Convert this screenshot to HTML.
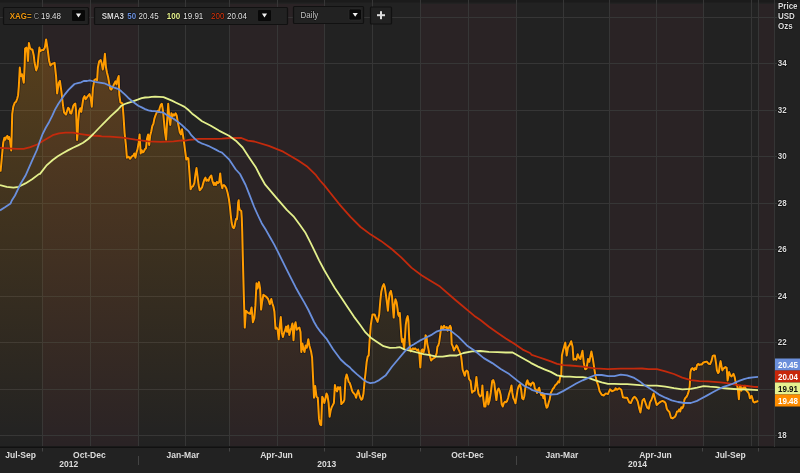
<!DOCTYPE html>
<html><head><meta charset="utf-8"><title>XAG= Chart</title>
<style>
html,body{margin:0;padding:0;background:#222;width:800px;height:473px;overflow:hidden}
svg{display:block}
text{font-family:"Liberation Sans",Arial,sans-serif}
</style></head><body>
<svg width="800" height="473" viewBox="0 0 800 473">
<defs>
<linearGradient id="fg" gradientUnits="userSpaceOnUse" x1="0" y1="40" x2="0" y2="445">
<stop offset="0" stop-color="#e68e0c" stop-opacity="0.27"/>
<stop offset="1" stop-color="#e68e0c" stop-opacity="0"/>
</linearGradient>
<clipPath id="cc"><rect x="0" y="0" width="774" height="446"/></clipPath>
</defs>
<rect width="800" height="473" fill="#222"/>
<rect x="42" y="4" width="96" height="442" fill="#2a2325"/>
<rect x="229" y="4" width="95" height="442" fill="#2a2325"/>
<rect x="420" y="4" width="96" height="442" fill="#2a2325"/>
<rect x="609" y="4" width="94" height="442" fill="#2a2325"/>
<rect x="759" y="4" width="15" height="442" fill="#2a2325"/>
<rect x="0" y="0" width="800" height="2.5" fill="#1b1b1b"/>
<g fill="#363636"><rect x="42" y="0" width="1" height="446"/><rect x="90" y="0" width="1" height="446"/><rect x="138" y="0" width="1" height="446"/><rect x="185" y="0" width="1" height="446"/><rect x="229" y="0" width="1" height="446"/><rect x="277" y="0" width="1" height="446"/><rect x="324" y="0" width="1" height="446"/><rect x="372" y="0" width="1" height="446"/><rect x="420" y="0" width="1" height="446"/><rect x="468" y="0" width="1" height="446"/><rect x="516" y="0" width="1" height="446"/><rect x="563" y="0" width="1" height="446"/><rect x="609" y="0" width="1" height="446"/><rect x="656" y="0" width="1" height="446"/><rect x="703" y="0" width="1" height="446"/><rect x="751" y="0" width="1" height="446"/><rect x="758" y="0" width="1" height="446"/><rect x="0" y="17" width="774" height="1"/><rect x="0" y="63" width="774" height="1"/><rect x="0" y="110" width="774" height="1"/><rect x="0" y="156" width="774" height="1"/><rect x="0" y="203" width="774" height="1"/><rect x="0" y="249" width="774" height="1"/><rect x="0" y="296" width="774" height="1"/><rect x="0" y="342" width="774" height="1"/><rect x="0" y="389" width="774" height="1"/><rect x="0" y="435" width="774" height="1"/></g>
<g clip-path="url(#cc)">
<path d="M0,169.5L0.6,170.8 1.9,156.8 3.2,142.8 4.4,137.8 5.3,139.7 6.3,137 7.4,135.9 8.2,139 9.1,137 10.2,141.6 11.2,150.5 11.7,135 12.2,114.2 13.3,106.6 14.7,102.8 16,101.8 17.1,99 18.1,95.2 18.8,86.6 19.8,67.6 20.7,76.1 21.9,74.2 22.8,78 23.8,82.8 24.6,66.6 25.1,48.6 26.5,47.6 27.4,53.3 28,60.9 28.9,42.9 29.9,47.6 31.2,49.5 32.4,49.5 33.7,55.2 34.6,62.8 36.2,70.4 37.5,66.6 38.4,57.1 39.4,47.6 40.2,51.2 41.9,50 43.4,50 44.9,47.4 46.1,39.5 47.6,49 49.1,60.7 50.4,65.6 52,63.9 54.6,62.8 56.1,76.6 57.1,93.5 58.8,82.9 59.9,80.8 61.4,91.4 63.1,106.2 64.1,112.5 66,114.6 67.1,110.9 68.1,107.7 69.2,108.7 70.2,113 71.3,113.5 72.3,109.8 73.4,105.6 74.5,104 75.3,103.5 76,109.8 76.6,126.7 77.1,140 77.6,134.1 78.2,121.4 79.2,110.9 80.3,108.2 81.3,111.9 82.4,104.5 83.4,98.2 84.5,96.1 85.6,99.2 87.1,97.1 88.7,95 89.5,94 90.7,98.2 91.8,106.7 92.9,88.7 94.3,80.2 95.8,79.2 97.1,80.2 97.9,67.5 99.2,61.2 100.7,60.1 101.7,63.3 102.8,69.6 103.9,63.3 104.9,53.8 106,67.5 107,72.8 108.1,77 109.2,83.4 110.2,88.7 111.3,89.7 112.3,87.6 113.4,85.5 114.4,83.4 115.5,81.3 116.6,84.4 117.6,79.2 118.7,76 119.3,95 120.4,102.4 122.5,103.5 123.5,116.2 124.6,133.1 125.9,145 126.9,157.7 128.6,156.7 130.1,158.8 131.6,156.7 133.3,155.6 134.3,153.5 135.4,157.7 136.5,152.4 137.5,149.3 138.6,142.9 139.6,134.4 140.7,153.5 141.7,150.3 142.8,152.4 143.9,151.4 144.9,149.3 146,148.2 147,138.7 148.1,134.4 149.2,145 150.2,135.5 151.3,131.3 152.3,126 153.4,123.9 154.4,118.6 155.5,115.4 156.6,112.9 157.6,110.7 158.7,112.2 159.7,108 160.8,104.8 161.9,103.8 162.9,110.1 164,121.7 165,132.3 166.1,139.7 167.1,121.7 168.2,103.8 169.3,117.5 170.3,124.9 171.4,113.3 172.4,116.5 173.5,114.3 174.5,115.4 175.6,113.3 176.7,115.4 177.7,121.7 178.8,127 179.8,132.3 180.9,134.4 182,129.2 183,135.5 184.1,142.9 185.2,151.3 186.3,159.6 187.4,158 188.4,158.5 189.5,173.5 190.6,189.3 191.6,187.1 193.1,186.1 194.4,182.9 195.4,174.4 196.5,168.1 197.6,176.6 198.6,185 199.7,190.3 200.7,189.3 202.2,187.1 203.3,182.9 204.3,179.7 205.4,177.6 206.5,180.8 207.5,179.7 208.6,180.8 209.6,177.6 211.3,175.5 212.4,180.8 213.9,185 214.9,182.9 216,185 217,181.9 218.1,182.9 219.2,181.9 220.2,173.4 221.3,184 222.3,188.2 222.8,185.7 223.8,185.1 225.1,186.3 226.3,188.2 227.6,192.7 228.9,199 229.9,206.6 230.8,215.5 231.7,223.1 232.7,227 233.7,228.2 234.6,226.3 235.5,221.2 236.2,218.7 236.9,219.3 237.5,214.3 238.1,202.8 238.7,200.3 239,206.6 239.7,209.8 240.6,210.5 241.3,211.1 241.8,218.1 242.2,230.8 242.7,252.3 243.8,294.7 244.8,327.6 245.9,310.7 248,312.8 250.1,313.9 251.6,307.5 252.9,322.3 254.3,318.1 255.4,305.4 256.5,283.2 257.5,288.5 259,282.1 260.1,288.5 261.1,309.6 262.2,301.2 263.4,294.8 264.9,295.9 266.4,296.9 268.1,299 269.8,304.3 271.3,299 272.3,303.3 273.4,306.5 274.4,311.7 275.5,328.7 276.6,327.6 277.6,329.7 278.7,339.3 279.7,326.6 280.8,317 281.9,332.9 282.9,337.1 284,332.9 285,330.8 286.1,326.6 287.1,331.9 288.2,325.5 289.3,335 290.3,330.8 291.4,327.6 292.4,323.4 293.5,340.3 294.6,325.5 295.6,322.3 296.7,329.7 297.7,328.7 299.4,327.6 300.5,331.9 301.3,352 302.4,343.5 303.4,348.8 304.5,352 305.6,345.6 306.8,347.7 308.3,339.3 309.5,345.9 311,351.2 312.1,357.5 313.1,378.7 314,397.7 315.2,386.1 316.5,396.7 317.8,397.7 319,418.9 320.1,424.2 321.2,425.2 322.2,396.7 323.3,398.8 324.3,403 325.4,398.8 326.5,393.5 327.5,395.6 328.6,403 329.6,416.8 330.7,410.4 331.7,407.2 332.8,405.1 333.9,403 334.9,385 336,389.3 337,391.4 338.1,387.1 339.2,389.3 340.2,387.1 341.3,404.1 342.3,403 343.4,402 344.4,399.8 345.5,378.7 346.6,374.4 347.6,377.6 348.7,381.9 349.7,382.9 350.8,386.1 351.9,390.3 352.9,392.4 354,393.5 355,394.6 356.1,397.7 357.1,393.5 358.2,390.3 359.3,394.6 360.3,397.7 361.4,399.8 362.4,398.8 363.5,393.5 364.6,380.8 365.6,372.3 366.7,361.7 367.7,356.5 368.7,355.5 369.5,342 370.8,325 372.5,314.4 374.6,314.4 376.1,318.7 377.6,321.9 379.2,314.5 380.3,300.8 381.3,291.7 382.6,286.4 383.8,284.1 384.8,287.1 385.9,294.7 387.1,303.9 387.9,310.7 388.7,300.8 389.7,293.2 390.9,290.9 392,296.3 392.9,308.4 393.7,317.6 394.4,305.4 395.5,299.3 396.6,302.4 397.5,308.4 398.2,314.5 399,316.1 399.8,313 400.5,323.7 401.3,335.8 402,341.9 402.8,338.9 403.6,345 404.2,348 404.9,338.9 405.7,325.2 406.6,319.1 407.7,316.1 408.4,320.6 409.2,338.9 410,348 410.8,351.5 411.9,349.4 412.9,348.3 414,349.4 415,348.3 416.1,349.4 417.1,350.4 418.2,349.4 419.3,353.6 420.3,367.4 421.4,350.4 422.4,349.4 423.5,352.5 424.6,348.3 425.6,335.2 426.5,336.5 427.3,344.1 428.2,347.9 429.1,353 430.1,356.8 431.1,360.6 432,359.4 432.9,358.7 433.9,358.1 434.9,357.5 435.8,355.6 436.7,353 437.4,346.7 438.3,345.4 439.2,342.2 440.2,335.2 441.3,326.3 442.1,327.6 443,328.9 444,325.7 444.9,327.6 446,327.6 446.8,327 447.6,330.8 448.5,328.9 449.4,327 450.1,325.7 451,327.6 451.7,344.1 452.3,345.4 452.9,346.7 454,350.5 454.8,348.6 455.7,347.3 456.5,345.4 457.4,346.7 458.3,349.2 459.3,351.1 460.3,353.7 461.2,356.8 461.6,360 462.6,369.5 463.7,372.7 464.8,375.8 465.8,371.6 466.9,370.6 467.9,371.6 469,379 470.6,381.1 471.6,389.6 472.1,392.7 473.2,391.2 474.8,390.6 476.4,376.9 477.4,386.4 478.5,393.8 480.1,396.4 481.7,394.9 482.4,385.4 483.2,398 484.3,406.5 485.4,406.5 486.4,399.1 487.3,391.7 488.3,404.4 489.6,400.1 490.8,392.7 492.2,381.1 493.3,380.1 494.3,383.2 495.4,392.7 496.4,400.1 497.5,390.6 498.6,388.5 499.6,390.6 500.7,394.9 501.7,404.4 502.8,406.5 503.8,403.3 504.9,401.7 505.9,402.3 507,401.2 508.1,398 509.1,393.8 510.5,389.6 511.5,385.4 512.3,392.7 513.3,398 514.4,400.1 515.5,403.3 516.5,397 517.6,389.6 518.6,386.4 520,384.3 521.2,389.8 522.2,398.3 523.3,399.4 524.3,396.2 525.4,387.7 526.5,382.4 527.5,380.3 528.6,384.6 529.6,383.5 530.7,385.6 531.7,383.5 532.8,382.4 533.9,383.5 534.9,388.8 536,389.8 537,393 538.1,389.8 539.2,387.7 540.2,392 541.3,395.1 542.3,393 543.4,398.3 544.4,394.1 545.5,403.6 546.6,407.8 547.6,406.8 548.7,402.5 549.7,399.4 550.8,393 551.9,390.9 552.9,388.8 554,387.7 555,385.6 556.1,384.6 557.1,383.5 558.2,381.4 559.3,382.4 560.3,376.1 561.2,376.2 561.9,355.6 563.2,350.1 565.3,342.6 566.7,355.6 568,347.4 569.4,345.3 571.2,341.2 572.6,346.7 573.5,359.7 574.9,359 576.3,359.7 577.7,354.2 579,357.7 580.4,359 582.5,350.8 583.9,363.8 585.2,369.3 586.6,368.7 588,359 589.3,361.8 591.4,351.5 592.8,358.4 594.2,368 595.5,376.2 596.9,381.7 598.3,385.8 599.6,391.3 601.7,394.8 603.7,395.5 605.8,393.4 607.9,394.1 610,389.3 612,391.3 615,389.9 615.5,388.2 617.1,389.8 619.2,388.2 621.3,389.8 622.9,397.2 625,397.7 627.1,397.7 629.3,402.5 630.8,403 633,398.2 634.5,396.7 636.1,398.2 637.7,401.4 639.3,408.8 640.4,412.5 641.4,406.7 642.5,400.4 644.1,398.8 645.7,403.5 647.2,407.7 648.8,408.8 649.9,402.5 651.5,399.8 653.6,393.5 655.1,399.3 656.7,405.1 658.3,403.5 660.4,401.9 662.5,400.9 664.7,402 665.7,403.5 666.8,408.8 667.8,410.4 669.4,412 671,417.8 672.6,418.4 675,416.7 676,414.7 677,411.5 678.1,411.5 679.2,409.4 680.2,411.5 681.3,407.2 682.3,408.3 683.4,406.2 684.4,399.8 685.5,397.7 686.6,396.7 687.6,394.6 688.7,391.4 689.7,386.1 690.4,372.3 691.2,369.2 692.5,368.1 694,370.2 695,368.1 696.1,369.2 697.1,364.9 698.2,363.9 699.3,364.9 700.3,364.5 701.7,364.5 703.4,362.5 705.1,362 706.8,361.6 708.5,363.7 710.1,364 711.5,361 712.7,356.1 713.5,355.5 714.9,355.6 716.1,363.7 716.9,370.4 718.1,373 718.9,372.1 720,363.7 720.6,361.1 721.5,366.2 722.3,370.4 723.3,368.7 724.5,367.9 725.4,367.1 726.7,367.9 727.6,380.6 728.4,376.4 729.1,372.1 730.1,374.7 731.3,376.4 732.5,375.5 733.5,373.8 734.7,377.2 735.5,381.4 736.4,384.8 737.2,385.7 738,390.7 738.9,399.2 739.7,387.3 740.6,385.7 741.4,390.7 742.3,388.2 743.1,389 744,387.3 744.8,385.7 745.7,389 746.5,390.7 747.3,391.6 748.2,392.4 749,394.1 749.9,398.3 750.7,397.5 751.6,395.8 752.4,398.3 753.3,401.7 754.4,402.6 755.8,401.7 757,401.7 758,400.5 L758,446 L0,446 Z" fill="url(#fg)"/>
<polyline points="0,169.5 0.6,170.8 1.9,156.8 3.2,142.8 4.4,137.8 5.3,139.7 6.3,137 7.4,135.9 8.2,139 9.1,137 10.2,141.6 11.2,150.5 11.7,135 12.2,114.2 13.3,106.6 14.7,102.8 16,101.8 17.1,99 18.1,95.2 18.8,86.6 19.8,67.6 20.7,76.1 21.9,74.2 22.8,78 23.8,82.8 24.6,66.6 25.1,48.6 26.5,47.6 27.4,53.3 28,60.9 28.9,42.9 29.9,47.6 31.2,49.5 32.4,49.5 33.7,55.2 34.6,62.8 36.2,70.4 37.5,66.6 38.4,57.1 39.4,47.6 40.2,51.2 41.9,50 43.4,50 44.9,47.4 46.1,39.5 47.6,49 49.1,60.7 50.4,65.6 52,63.9 54.6,62.8 56.1,76.6 57.1,93.5 58.8,82.9 59.9,80.8 61.4,91.4 63.1,106.2 64.1,112.5 66,114.6 67.1,110.9 68.1,107.7 69.2,108.7 70.2,113 71.3,113.5 72.3,109.8 73.4,105.6 74.5,104 75.3,103.5 76,109.8 76.6,126.7 77.1,140 77.6,134.1 78.2,121.4 79.2,110.9 80.3,108.2 81.3,111.9 82.4,104.5 83.4,98.2 84.5,96.1 85.6,99.2 87.1,97.1 88.7,95 89.5,94 90.7,98.2 91.8,106.7 92.9,88.7 94.3,80.2 95.8,79.2 97.1,80.2 97.9,67.5 99.2,61.2 100.7,60.1 101.7,63.3 102.8,69.6 103.9,63.3 104.9,53.8 106,67.5 107,72.8 108.1,77 109.2,83.4 110.2,88.7 111.3,89.7 112.3,87.6 113.4,85.5 114.4,83.4 115.5,81.3 116.6,84.4 117.6,79.2 118.7,76 119.3,95 120.4,102.4 122.5,103.5 123.5,116.2 124.6,133.1 125.9,145 126.9,157.7 128.6,156.7 130.1,158.8 131.6,156.7 133.3,155.6 134.3,153.5 135.4,157.7 136.5,152.4 137.5,149.3 138.6,142.9 139.6,134.4 140.7,153.5 141.7,150.3 142.8,152.4 143.9,151.4 144.9,149.3 146,148.2 147,138.7 148.1,134.4 149.2,145 150.2,135.5 151.3,131.3 152.3,126 153.4,123.9 154.4,118.6 155.5,115.4 156.6,112.9 157.6,110.7 158.7,112.2 159.7,108 160.8,104.8 161.9,103.8 162.9,110.1 164,121.7 165,132.3 166.1,139.7 167.1,121.7 168.2,103.8 169.3,117.5 170.3,124.9 171.4,113.3 172.4,116.5 173.5,114.3 174.5,115.4 175.6,113.3 176.7,115.4 177.7,121.7 178.8,127 179.8,132.3 180.9,134.4 182,129.2 183,135.5 184.1,142.9 185.2,151.3 186.3,159.6 187.4,158 188.4,158.5 189.5,173.5 190.6,189.3 191.6,187.1 193.1,186.1 194.4,182.9 195.4,174.4 196.5,168.1 197.6,176.6 198.6,185 199.7,190.3 200.7,189.3 202.2,187.1 203.3,182.9 204.3,179.7 205.4,177.6 206.5,180.8 207.5,179.7 208.6,180.8 209.6,177.6 211.3,175.5 212.4,180.8 213.9,185 214.9,182.9 216,185 217,181.9 218.1,182.9 219.2,181.9 220.2,173.4 221.3,184 222.3,188.2 222.8,185.7 223.8,185.1 225.1,186.3 226.3,188.2 227.6,192.7 228.9,199 229.9,206.6 230.8,215.5 231.7,223.1 232.7,227 233.7,228.2 234.6,226.3 235.5,221.2 236.2,218.7 236.9,219.3 237.5,214.3 238.1,202.8 238.7,200.3 239,206.6 239.7,209.8 240.6,210.5 241.3,211.1 241.8,218.1 242.2,230.8 242.7,252.3 243.8,294.7 244.8,327.6 245.9,310.7 248,312.8 250.1,313.9 251.6,307.5 252.9,322.3 254.3,318.1 255.4,305.4 256.5,283.2 257.5,288.5 259,282.1 260.1,288.5 261.1,309.6 262.2,301.2 263.4,294.8 264.9,295.9 266.4,296.9 268.1,299 269.8,304.3 271.3,299 272.3,303.3 273.4,306.5 274.4,311.7 275.5,328.7 276.6,327.6 277.6,329.7 278.7,339.3 279.7,326.6 280.8,317 281.9,332.9 282.9,337.1 284,332.9 285,330.8 286.1,326.6 287.1,331.9 288.2,325.5 289.3,335 290.3,330.8 291.4,327.6 292.4,323.4 293.5,340.3 294.6,325.5 295.6,322.3 296.7,329.7 297.7,328.7 299.4,327.6 300.5,331.9 301.3,352 302.4,343.5 303.4,348.8 304.5,352 305.6,345.6 306.8,347.7 308.3,339.3 309.5,345.9 311,351.2 312.1,357.5 313.1,378.7 314,397.7 315.2,386.1 316.5,396.7 317.8,397.7 319,418.9 320.1,424.2 321.2,425.2 322.2,396.7 323.3,398.8 324.3,403 325.4,398.8 326.5,393.5 327.5,395.6 328.6,403 329.6,416.8 330.7,410.4 331.7,407.2 332.8,405.1 333.9,403 334.9,385 336,389.3 337,391.4 338.1,387.1 339.2,389.3 340.2,387.1 341.3,404.1 342.3,403 343.4,402 344.4,399.8 345.5,378.7 346.6,374.4 347.6,377.6 348.7,381.9 349.7,382.9 350.8,386.1 351.9,390.3 352.9,392.4 354,393.5 355,394.6 356.1,397.7 357.1,393.5 358.2,390.3 359.3,394.6 360.3,397.7 361.4,399.8 362.4,398.8 363.5,393.5 364.6,380.8 365.6,372.3 366.7,361.7 367.7,356.5 368.7,355.5 369.5,342 370.8,325 372.5,314.4 374.6,314.4 376.1,318.7 377.6,321.9 379.2,314.5 380.3,300.8 381.3,291.7 382.6,286.4 383.8,284.1 384.8,287.1 385.9,294.7 387.1,303.9 387.9,310.7 388.7,300.8 389.7,293.2 390.9,290.9 392,296.3 392.9,308.4 393.7,317.6 394.4,305.4 395.5,299.3 396.6,302.4 397.5,308.4 398.2,314.5 399,316.1 399.8,313 400.5,323.7 401.3,335.8 402,341.9 402.8,338.9 403.6,345 404.2,348 404.9,338.9 405.7,325.2 406.6,319.1 407.7,316.1 408.4,320.6 409.2,338.9 410,348 410.8,351.5 411.9,349.4 412.9,348.3 414,349.4 415,348.3 416.1,349.4 417.1,350.4 418.2,349.4 419.3,353.6 420.3,367.4 421.4,350.4 422.4,349.4 423.5,352.5 424.6,348.3 425.6,335.2 426.5,336.5 427.3,344.1 428.2,347.9 429.1,353 430.1,356.8 431.1,360.6 432,359.4 432.9,358.7 433.9,358.1 434.9,357.5 435.8,355.6 436.7,353 437.4,346.7 438.3,345.4 439.2,342.2 440.2,335.2 441.3,326.3 442.1,327.6 443,328.9 444,325.7 444.9,327.6 446,327.6 446.8,327 447.6,330.8 448.5,328.9 449.4,327 450.1,325.7 451,327.6 451.7,344.1 452.3,345.4 452.9,346.7 454,350.5 454.8,348.6 455.7,347.3 456.5,345.4 457.4,346.7 458.3,349.2 459.3,351.1 460.3,353.7 461.2,356.8 461.6,360 462.6,369.5 463.7,372.7 464.8,375.8 465.8,371.6 466.9,370.6 467.9,371.6 469,379 470.6,381.1 471.6,389.6 472.1,392.7 473.2,391.2 474.8,390.6 476.4,376.9 477.4,386.4 478.5,393.8 480.1,396.4 481.7,394.9 482.4,385.4 483.2,398 484.3,406.5 485.4,406.5 486.4,399.1 487.3,391.7 488.3,404.4 489.6,400.1 490.8,392.7 492.2,381.1 493.3,380.1 494.3,383.2 495.4,392.7 496.4,400.1 497.5,390.6 498.6,388.5 499.6,390.6 500.7,394.9 501.7,404.4 502.8,406.5 503.8,403.3 504.9,401.7 505.9,402.3 507,401.2 508.1,398 509.1,393.8 510.5,389.6 511.5,385.4 512.3,392.7 513.3,398 514.4,400.1 515.5,403.3 516.5,397 517.6,389.6 518.6,386.4 520,384.3 521.2,389.8 522.2,398.3 523.3,399.4 524.3,396.2 525.4,387.7 526.5,382.4 527.5,380.3 528.6,384.6 529.6,383.5 530.7,385.6 531.7,383.5 532.8,382.4 533.9,383.5 534.9,388.8 536,389.8 537,393 538.1,389.8 539.2,387.7 540.2,392 541.3,395.1 542.3,393 543.4,398.3 544.4,394.1 545.5,403.6 546.6,407.8 547.6,406.8 548.7,402.5 549.7,399.4 550.8,393 551.9,390.9 552.9,388.8 554,387.7 555,385.6 556.1,384.6 557.1,383.5 558.2,381.4 559.3,382.4 560.3,376.1 561.2,376.2 561.9,355.6 563.2,350.1 565.3,342.6 566.7,355.6 568,347.4 569.4,345.3 571.2,341.2 572.6,346.7 573.5,359.7 574.9,359 576.3,359.7 577.7,354.2 579,357.7 580.4,359 582.5,350.8 583.9,363.8 585.2,369.3 586.6,368.7 588,359 589.3,361.8 591.4,351.5 592.8,358.4 594.2,368 595.5,376.2 596.9,381.7 598.3,385.8 599.6,391.3 601.7,394.8 603.7,395.5 605.8,393.4 607.9,394.1 610,389.3 612,391.3 615,389.9 615.5,388.2 617.1,389.8 619.2,388.2 621.3,389.8 622.9,397.2 625,397.7 627.1,397.7 629.3,402.5 630.8,403 633,398.2 634.5,396.7 636.1,398.2 637.7,401.4 639.3,408.8 640.4,412.5 641.4,406.7 642.5,400.4 644.1,398.8 645.7,403.5 647.2,407.7 648.8,408.8 649.9,402.5 651.5,399.8 653.6,393.5 655.1,399.3 656.7,405.1 658.3,403.5 660.4,401.9 662.5,400.9 664.7,402 665.7,403.5 666.8,408.8 667.8,410.4 669.4,412 671,417.8 672.6,418.4 675,416.7 676,414.7 677,411.5 678.1,411.5 679.2,409.4 680.2,411.5 681.3,407.2 682.3,408.3 683.4,406.2 684.4,399.8 685.5,397.7 686.6,396.7 687.6,394.6 688.7,391.4 689.7,386.1 690.4,372.3 691.2,369.2 692.5,368.1 694,370.2 695,368.1 696.1,369.2 697.1,364.9 698.2,363.9 699.3,364.9 700.3,364.5 701.7,364.5 703.4,362.5 705.1,362 706.8,361.6 708.5,363.7 710.1,364 711.5,361 712.7,356.1 713.5,355.5 714.9,355.6 716.1,363.7 716.9,370.4 718.1,373 718.9,372.1 720,363.7 720.6,361.1 721.5,366.2 722.3,370.4 723.3,368.7 724.5,367.9 725.4,367.1 726.7,367.9 727.6,380.6 728.4,376.4 729.1,372.1 730.1,374.7 731.3,376.4 732.5,375.5 733.5,373.8 734.7,377.2 735.5,381.4 736.4,384.8 737.2,385.7 738,390.7 738.9,399.2 739.7,387.3 740.6,385.7 741.4,390.7 742.3,388.2 743.1,389 744,387.3 744.8,385.7 745.7,389 746.5,390.7 747.3,391.6 748.2,392.4 749,394.1 749.9,398.3 750.7,397.5 751.6,395.8 752.4,398.3 753.3,401.7 754.4,402.6 755.8,401.7 757,401.7 758,400.5" fill="none" stroke="#0c0c14" stroke-opacity="0.45" stroke-width="3.6" stroke-linejoin="round"/>
<polyline points="0,169.5 0.6,170.8 1.9,156.8 3.2,142.8 4.4,137.8 5.3,139.7 6.3,137 7.4,135.9 8.2,139 9.1,137 10.2,141.6 11.2,150.5 11.7,135 12.2,114.2 13.3,106.6 14.7,102.8 16,101.8 17.1,99 18.1,95.2 18.8,86.6 19.8,67.6 20.7,76.1 21.9,74.2 22.8,78 23.8,82.8 24.6,66.6 25.1,48.6 26.5,47.6 27.4,53.3 28,60.9 28.9,42.9 29.9,47.6 31.2,49.5 32.4,49.5 33.7,55.2 34.6,62.8 36.2,70.4 37.5,66.6 38.4,57.1 39.4,47.6 40.2,51.2 41.9,50 43.4,50 44.9,47.4 46.1,39.5 47.6,49 49.1,60.7 50.4,65.6 52,63.9 54.6,62.8 56.1,76.6 57.1,93.5 58.8,82.9 59.9,80.8 61.4,91.4 63.1,106.2 64.1,112.5 66,114.6 67.1,110.9 68.1,107.7 69.2,108.7 70.2,113 71.3,113.5 72.3,109.8 73.4,105.6 74.5,104 75.3,103.5 76,109.8 76.6,126.7 77.1,140 77.6,134.1 78.2,121.4 79.2,110.9 80.3,108.2 81.3,111.9 82.4,104.5 83.4,98.2 84.5,96.1 85.6,99.2 87.1,97.1 88.7,95 89.5,94 90.7,98.2 91.8,106.7 92.9,88.7 94.3,80.2 95.8,79.2 97.1,80.2 97.9,67.5 99.2,61.2 100.7,60.1 101.7,63.3 102.8,69.6 103.9,63.3 104.9,53.8 106,67.5 107,72.8 108.1,77 109.2,83.4 110.2,88.7 111.3,89.7 112.3,87.6 113.4,85.5 114.4,83.4 115.5,81.3 116.6,84.4 117.6,79.2 118.7,76 119.3,95 120.4,102.4 122.5,103.5 123.5,116.2 124.6,133.1 125.9,145 126.9,157.7 128.6,156.7 130.1,158.8 131.6,156.7 133.3,155.6 134.3,153.5 135.4,157.7 136.5,152.4 137.5,149.3 138.6,142.9 139.6,134.4 140.7,153.5 141.7,150.3 142.8,152.4 143.9,151.4 144.9,149.3 146,148.2 147,138.7 148.1,134.4 149.2,145 150.2,135.5 151.3,131.3 152.3,126 153.4,123.9 154.4,118.6 155.5,115.4 156.6,112.9 157.6,110.7 158.7,112.2 159.7,108 160.8,104.8 161.9,103.8 162.9,110.1 164,121.7 165,132.3 166.1,139.7 167.1,121.7 168.2,103.8 169.3,117.5 170.3,124.9 171.4,113.3 172.4,116.5 173.5,114.3 174.5,115.4 175.6,113.3 176.7,115.4 177.7,121.7 178.8,127 179.8,132.3 180.9,134.4 182,129.2 183,135.5 184.1,142.9 185.2,151.3 186.3,159.6 187.4,158 188.4,158.5 189.5,173.5 190.6,189.3 191.6,187.1 193.1,186.1 194.4,182.9 195.4,174.4 196.5,168.1 197.6,176.6 198.6,185 199.7,190.3 200.7,189.3 202.2,187.1 203.3,182.9 204.3,179.7 205.4,177.6 206.5,180.8 207.5,179.7 208.6,180.8 209.6,177.6 211.3,175.5 212.4,180.8 213.9,185 214.9,182.9 216,185 217,181.9 218.1,182.9 219.2,181.9 220.2,173.4 221.3,184 222.3,188.2 222.8,185.7 223.8,185.1 225.1,186.3 226.3,188.2 227.6,192.7 228.9,199 229.9,206.6 230.8,215.5 231.7,223.1 232.7,227 233.7,228.2 234.6,226.3 235.5,221.2 236.2,218.7 236.9,219.3 237.5,214.3 238.1,202.8 238.7,200.3 239,206.6 239.7,209.8 240.6,210.5 241.3,211.1 241.8,218.1 242.2,230.8 242.7,252.3 243.8,294.7 244.8,327.6 245.9,310.7 248,312.8 250.1,313.9 251.6,307.5 252.9,322.3 254.3,318.1 255.4,305.4 256.5,283.2 257.5,288.5 259,282.1 260.1,288.5 261.1,309.6 262.2,301.2 263.4,294.8 264.9,295.9 266.4,296.9 268.1,299 269.8,304.3 271.3,299 272.3,303.3 273.4,306.5 274.4,311.7 275.5,328.7 276.6,327.6 277.6,329.7 278.7,339.3 279.7,326.6 280.8,317 281.9,332.9 282.9,337.1 284,332.9 285,330.8 286.1,326.6 287.1,331.9 288.2,325.5 289.3,335 290.3,330.8 291.4,327.6 292.4,323.4 293.5,340.3 294.6,325.5 295.6,322.3 296.7,329.7 297.7,328.7 299.4,327.6 300.5,331.9 301.3,352 302.4,343.5 303.4,348.8 304.5,352 305.6,345.6 306.8,347.7 308.3,339.3 309.5,345.9 311,351.2 312.1,357.5 313.1,378.7 314,397.7 315.2,386.1 316.5,396.7 317.8,397.7 319,418.9 320.1,424.2 321.2,425.2 322.2,396.7 323.3,398.8 324.3,403 325.4,398.8 326.5,393.5 327.5,395.6 328.6,403 329.6,416.8 330.7,410.4 331.7,407.2 332.8,405.1 333.9,403 334.9,385 336,389.3 337,391.4 338.1,387.1 339.2,389.3 340.2,387.1 341.3,404.1 342.3,403 343.4,402 344.4,399.8 345.5,378.7 346.6,374.4 347.6,377.6 348.7,381.9 349.7,382.9 350.8,386.1 351.9,390.3 352.9,392.4 354,393.5 355,394.6 356.1,397.7 357.1,393.5 358.2,390.3 359.3,394.6 360.3,397.7 361.4,399.8 362.4,398.8 363.5,393.5 364.6,380.8 365.6,372.3 366.7,361.7 367.7,356.5 368.7,355.5 369.5,342 370.8,325 372.5,314.4 374.6,314.4 376.1,318.7 377.6,321.9 379.2,314.5 380.3,300.8 381.3,291.7 382.6,286.4 383.8,284.1 384.8,287.1 385.9,294.7 387.1,303.9 387.9,310.7 388.7,300.8 389.7,293.2 390.9,290.9 392,296.3 392.9,308.4 393.7,317.6 394.4,305.4 395.5,299.3 396.6,302.4 397.5,308.4 398.2,314.5 399,316.1 399.8,313 400.5,323.7 401.3,335.8 402,341.9 402.8,338.9 403.6,345 404.2,348 404.9,338.9 405.7,325.2 406.6,319.1 407.7,316.1 408.4,320.6 409.2,338.9 410,348 410.8,351.5 411.9,349.4 412.9,348.3 414,349.4 415,348.3 416.1,349.4 417.1,350.4 418.2,349.4 419.3,353.6 420.3,367.4 421.4,350.4 422.4,349.4 423.5,352.5 424.6,348.3 425.6,335.2 426.5,336.5 427.3,344.1 428.2,347.9 429.1,353 430.1,356.8 431.1,360.6 432,359.4 432.9,358.7 433.9,358.1 434.9,357.5 435.8,355.6 436.7,353 437.4,346.7 438.3,345.4 439.2,342.2 440.2,335.2 441.3,326.3 442.1,327.6 443,328.9 444,325.7 444.9,327.6 446,327.6 446.8,327 447.6,330.8 448.5,328.9 449.4,327 450.1,325.7 451,327.6 451.7,344.1 452.3,345.4 452.9,346.7 454,350.5 454.8,348.6 455.7,347.3 456.5,345.4 457.4,346.7 458.3,349.2 459.3,351.1 460.3,353.7 461.2,356.8 461.6,360 462.6,369.5 463.7,372.7 464.8,375.8 465.8,371.6 466.9,370.6 467.9,371.6 469,379 470.6,381.1 471.6,389.6 472.1,392.7 473.2,391.2 474.8,390.6 476.4,376.9 477.4,386.4 478.5,393.8 480.1,396.4 481.7,394.9 482.4,385.4 483.2,398 484.3,406.5 485.4,406.5 486.4,399.1 487.3,391.7 488.3,404.4 489.6,400.1 490.8,392.7 492.2,381.1 493.3,380.1 494.3,383.2 495.4,392.7 496.4,400.1 497.5,390.6 498.6,388.5 499.6,390.6 500.7,394.9 501.7,404.4 502.8,406.5 503.8,403.3 504.9,401.7 505.9,402.3 507,401.2 508.1,398 509.1,393.8 510.5,389.6 511.5,385.4 512.3,392.7 513.3,398 514.4,400.1 515.5,403.3 516.5,397 517.6,389.6 518.6,386.4 520,384.3 521.2,389.8 522.2,398.3 523.3,399.4 524.3,396.2 525.4,387.7 526.5,382.4 527.5,380.3 528.6,384.6 529.6,383.5 530.7,385.6 531.7,383.5 532.8,382.4 533.9,383.5 534.9,388.8 536,389.8 537,393 538.1,389.8 539.2,387.7 540.2,392 541.3,395.1 542.3,393 543.4,398.3 544.4,394.1 545.5,403.6 546.6,407.8 547.6,406.8 548.7,402.5 549.7,399.4 550.8,393 551.9,390.9 552.9,388.8 554,387.7 555,385.6 556.1,384.6 557.1,383.5 558.2,381.4 559.3,382.4 560.3,376.1 561.2,376.2 561.9,355.6 563.2,350.1 565.3,342.6 566.7,355.6 568,347.4 569.4,345.3 571.2,341.2 572.6,346.7 573.5,359.7 574.9,359 576.3,359.7 577.7,354.2 579,357.7 580.4,359 582.5,350.8 583.9,363.8 585.2,369.3 586.6,368.7 588,359 589.3,361.8 591.4,351.5 592.8,358.4 594.2,368 595.5,376.2 596.9,381.7 598.3,385.8 599.6,391.3 601.7,394.8 603.7,395.5 605.8,393.4 607.9,394.1 610,389.3 612,391.3 615,389.9 615.5,388.2 617.1,389.8 619.2,388.2 621.3,389.8 622.9,397.2 625,397.7 627.1,397.7 629.3,402.5 630.8,403 633,398.2 634.5,396.7 636.1,398.2 637.7,401.4 639.3,408.8 640.4,412.5 641.4,406.7 642.5,400.4 644.1,398.8 645.7,403.5 647.2,407.7 648.8,408.8 649.9,402.5 651.5,399.8 653.6,393.5 655.1,399.3 656.7,405.1 658.3,403.5 660.4,401.9 662.5,400.9 664.7,402 665.7,403.5 666.8,408.8 667.8,410.4 669.4,412 671,417.8 672.6,418.4 675,416.7 676,414.7 677,411.5 678.1,411.5 679.2,409.4 680.2,411.5 681.3,407.2 682.3,408.3 683.4,406.2 684.4,399.8 685.5,397.7 686.6,396.7 687.6,394.6 688.7,391.4 689.7,386.1 690.4,372.3 691.2,369.2 692.5,368.1 694,370.2 695,368.1 696.1,369.2 697.1,364.9 698.2,363.9 699.3,364.9 700.3,364.5 701.7,364.5 703.4,362.5 705.1,362 706.8,361.6 708.5,363.7 710.1,364 711.5,361 712.7,356.1 713.5,355.5 714.9,355.6 716.1,363.7 716.9,370.4 718.1,373 718.9,372.1 720,363.7 720.6,361.1 721.5,366.2 722.3,370.4 723.3,368.7 724.5,367.9 725.4,367.1 726.7,367.9 727.6,380.6 728.4,376.4 729.1,372.1 730.1,374.7 731.3,376.4 732.5,375.5 733.5,373.8 734.7,377.2 735.5,381.4 736.4,384.8 737.2,385.7 738,390.7 738.9,399.2 739.7,387.3 740.6,385.7 741.4,390.7 742.3,388.2 743.1,389 744,387.3 744.8,385.7 745.7,389 746.5,390.7 747.3,391.6 748.2,392.4 749,394.1 749.9,398.3 750.7,397.5 751.6,395.8 752.4,398.3 753.3,401.7 754.4,402.6 755.8,401.7 757,401.7 758,400.5" fill="none" stroke="#ff9c00" stroke-width="2" stroke-linejoin="round"/>
<polyline points="0,147.9 8.5,148.4 16.9,148.8 23.7,148.8 30.4,147.1 37.2,144.5 40,142.8 46.3,139 52.7,135.2 59,133.3 65.4,132.7 73,132.7 78.1,133.7 84.4,134.6 90.7,135.5 100,136 101.7,136.3 110,136.6 122.7,137.6 135.4,139.7 148.1,141.4 160.8,141.9 173.5,141.4 182,140.3 185.4,140.7 188.8,139.9 193,139.5 198.9,138.8 207.4,138.8 215.8,138.8 222,138.7 230.8,138 241.4,138 247.7,140.6 254.3,141.5 268.8,145.9 283.2,151.7 298.2,160.5 307.5,166.8 316,175.2 320,180.5 324.4,185.4 330.2,192.7 340.3,205.4 350.5,216.8 360.6,227 370.8,234.6 380.9,240.9 391.1,248.5 401.2,257.4 411.4,267.6 421.5,275.2 431.7,281.5 440,286.6 455.4,300 461.7,305.3 468.1,310.6 474.4,315.9 480.4,320 488.9,326.8 497.4,332.7 505.8,338.6 514.3,343.7 522.7,349.6 530,353 531.7,354.9 538.1,357 544.4,359.2 550.8,361.3 557.1,363.8 563.5,365.1 570,365.5 582.7,366.6 595.4,368.3 608.1,369.1 620.8,368.7 633.5,368.7 642,368.5 648.5,369.2 656.9,369.2 665.4,371.3 673.9,374 682.3,377.6 690.8,380.2 699.3,381.2 707.7,381.4 714.1,381.9 720.3,382.3 727.1,383.1 733.8,384.3 740.6,385.3 747.3,386 754.1,386.8 758,387" fill="none" stroke="#c42a0c" stroke-width="1.8" stroke-linejoin="round"/>
<polyline points="0,185.1 6.8,186.8 13.5,187.7 18.6,186.8 25.4,183.4 32.1,179.2 38.9,174.1 40,173.9 46.3,165.7 52.7,160 57.8,156.2 62.8,153.2 67.9,150.4 73,147.7 78.1,145.4 83.1,142.8 88.2,139 93.3,134 100,127 102.6,124.3 111,115.8 118,109.5 121.4,105.7 124.8,104 128.1,102.8 131.5,101.9 134.9,100.6 138.3,99.4 141.7,98.1 145.1,97.5 148.4,97.3 151.8,96.8 155,96.6 163.5,97.2 167.7,98.9 171.9,100.6 176.1,102.7 180.4,104.8 184.6,106.9 188.8,110.3 192.2,113.7 195,115.8 202,121.3 210.4,125.5 218.9,130.6 229,135.7 235.8,140.7 242.6,147.5 249.3,157.7 256.1,167.8 260,175.5 265.2,184.7 276,197.3 286.8,209.9 293.5,216.3 299.8,224.8 305.1,232.2 310,241.7 319.1,260.3 324.2,270 328.5,277.4 334.8,288 341.2,297.5 347.5,307 353.9,316.6 360.2,325 365.5,332.4 370.8,337.7 377.1,342 383.5,346.2 389.8,347.9 396.2,347.7 400,347.2 404.4,349.4 410.8,350.8 417.1,352.5 423.5,354.2 429.8,355.1 436.3,356.7 442.7,356.7 450,355.5 456.8,355.5 463.5,353 472,351.3 480.4,351 488.9,351.8 497.4,352.1 505.8,352.5 512.6,352.5 521,357.2 530,362.3 531.7,363.4 538.1,366.6 544.4,369.3 550.8,371.9 557.1,375.4 563.5,376.5 569.8,376.7 576.2,377.1 582.7,377.1 589,378.2 595.4,380.3 601.7,382.4 608.1,383.9 614.4,383.9 620.8,384.1 627.1,384.1 633.5,384.6 639.8,385.2 648.5,385.7 656.9,385.7 665.4,386.7 673.9,388.2 682.3,389.3 690.8,388.8 697.1,387.6 703.5,386.1 709.8,386.7 716.2,387.1 720.3,387.9 727.1,388.5 733.8,389 740.6,389.4 747.3,389.5 754.1,389.9 758,390.2" fill="none" stroke="#e4f08c" stroke-width="1.8" stroke-linejoin="round"/>
<polyline points="0,210.4 5.3,207 10.6,203.4 11.8,200.5 15,195.5 20.3,184.3 25.4,175.8 32.1,160.6 36.9,150 39.5,142.3 42.7,133.8 45.9,127.5 49,122.2 52.2,115.9 55,109.6 58.4,103.8 61.8,98.8 65.1,94.1 68.5,89.9 71.9,86.5 74.5,84 77.8,83.1 81.2,82.3 83.8,81 87.1,81 89.7,80.3 92.2,81 95,81.8 104.3,83.3 112.7,87.1 118,88.8 121.4,91.3 124.8,94.3 128.1,97.7 131.5,100.6 134.9,103.2 138.3,105.7 141.7,107.4 145.1,109.1 148.4,110.4 151.8,111 155,111.1 159.2,112 163.5,112.7 166,114.5 169.4,116.6 173.6,118.8 177.8,121.7 182,125.1 185.4,128.5 188.8,131.4 191.3,135.2 194.7,138.6 198.1,141.6 201.5,143.3 204.8,144.5 208.2,145.8 211.6,147.5 215.8,149.6 219.2,151.5 222,152.6 229,159.3 235.8,169.5 240,174 245.6,185 249.8,195.6 254.2,207 258.5,216.5 261.7,223.2 266,230.1 270.2,237.5 274.4,244.9 278.7,253.4 282.9,261.9 287.1,270.3 291.4,278.8 295.6,287.2 299.8,294.7 304.1,302.1 308.4,310 311,315.5 314.1,322 317,327 320.4,331.6 326.8,339.2 333.1,349.3 340.7,359.5 345.5,364 350,367.5 351.7,369.5 357.1,374.4 363.5,379.7 367,382 370.3,383.2 375,382.3 379.2,380.1 385.5,375.6 391.9,366.8 398.2,359.2 404.6,351.6 410,346.5 414,344.3 419.3,340.9 425.6,337.7 432,334.6 436.3,331.7 442.7,329.6 450,330.1 458.5,336.9 466.9,345.4 475.4,351.3 483.8,358.1 492.3,363.1 500.7,369 509.2,374.1 517.7,380.9 524.4,386 530,388.5 531.7,389.8 538.1,392 544.4,393.7 550.8,394.5 557.1,394.1 563.5,390.9 569.8,387.3 576.2,383.5 582.7,380.3 589,377.6 595.4,375 601.7,375 608.1,376.1 614.4,376.1 620.8,374.6 627.1,375.4 633.5,377.6 639.8,381.4 645.1,385.6 652.7,390.3 659,394.6 665.4,397.7 671.7,400.3 678.1,402 684.4,403 690.8,403 697.1,400.9 700,399.3 706.8,395.6 713.7,391.7 718.5,389.2 723.4,386.9 727.5,385.6 731.6,384.2 735.7,382.4 739.8,380.7 744,379.2 748.1,378 752.9,377.3 758,376.9" fill="none" stroke="#6a8fdc" stroke-width="1.8" stroke-linejoin="round"/>
</g>
<rect x="0" y="446.5" width="800" height="1.5" fill="#111"/>
<rect x="774" y="0" width="1" height="447" fill="#353535"/>
<g fill="#444"><rect x="42" y="448" width="1" height="3.5"/><rect x="229" y="448" width="1" height="3.5"/><rect x="324" y="448" width="1" height="3.5"/><rect x="420" y="448" width="1" height="3.5"/><rect x="609" y="448" width="1" height="3.5"/><rect x="702" y="448" width="1" height="3.5"/><rect x="758" y="448" width="1" height="3.5"/><rect x="138" y="456" width="1" height="9"/><rect x="516" y="456" width="1" height="9"/></g>
<rect x="775" y="17" width="2" height="1" fill="#363636"/>
<rect x="775" y="63" width="2" height="1" fill="#363636"/>
<rect x="775" y="110" width="2" height="1" fill="#363636"/>
<rect x="775" y="156" width="2" height="1" fill="#363636"/>
<rect x="775" y="203" width="2" height="1" fill="#363636"/>
<rect x="775" y="249" width="2" height="1" fill="#363636"/>
<rect x="775" y="296" width="2" height="1" fill="#363636"/>
<rect x="775" y="342" width="2" height="1" fill="#363636"/>
<rect x="775" y="389" width="2" height="1" fill="#363636"/>
<rect x="775" y="435" width="2" height="1" fill="#363636"/>
<g fill="#dcdcdc" font-size="8.5" font-weight="bold" text-anchor="middle"><text x="20.6" y="458">Jul-Sep</text><text x="89.4" y="458">Oct-Dec</text><text x="182.9" y="458">Jan-Mar</text><text x="276.5" y="458">Apr-Jun</text><text x="371.3" y="458">Jul-Sep</text><text x="467.5" y="458">Oct-Dec</text><text x="561.9" y="458">Jan-Mar</text><text x="655.5" y="458">Apr-Jun</text><text x="730.3" y="458">Jul-Sep</text><text x="68.7" y="467">2012</text><text x="326.7" y="467">2013</text><text x="637.5" y="467">2014</text></g>
<g fill="#dcdcdc" font-size="8" font-weight="bold" stroke="#111" stroke-width="1.2" paint-order="stroke"><text transform="translate(777.8,66.4) scale(1,1.13)">34</text><text transform="translate(777.8,112.9) scale(1,1.13)">32</text><text transform="translate(777.8,159.4) scale(1,1.13)">30</text><text transform="translate(777.8,205.9) scale(1,1.13)">28</text><text transform="translate(777.8,252.4) scale(1,1.13)">26</text><text transform="translate(777.8,298.9) scale(1,1.13)">24</text><text transform="translate(777.8,345.4) scale(1,1.13)">22</text><text transform="translate(777.8,438.4) scale(1,1.13)">18</text><text transform="translate(778,8.7) scale(1,1.1)">Price</text><text transform="translate(778,19) scale(1,1.1)">USD</text><text transform="translate(778,29.2) scale(1,1.1)">Ozs</text></g>
<rect x="775" y="358.5" width="25" height="12" fill="#6b8fdb"/>
<text transform="translate(778,368.1) scale(1,1.2)" fill="#fff" font-size="8" font-weight="bold">20.45</text>
<rect x="775" y="370.5" width="25" height="12" fill="#c8260a"/>
<text transform="translate(778,380.1) scale(1,1.2)" fill="#fff" font-size="8" font-weight="bold">20.04</text>
<rect x="775" y="382.5" width="25" height="12" fill="#e6f090"/>
<text transform="translate(778,392.1) scale(1,1.2)" fill="#111" font-size="8" font-weight="bold">19.91</text>
<rect x="775" y="394.5" width="25" height="12" fill="#ff8c00"/>
<text transform="translate(778,404.1) scale(1,1.2)" fill="#fff" font-size="8" font-weight="bold">19.48</text>
<rect x="3.5" y="7.5" width="85" height="17" rx="1" fill="#222" stroke="#111" stroke-width="1.2"/>
<rect x="94.5" y="7.5" width="193" height="17" rx="1" fill="#222" stroke="#111" stroke-width="1.2"/>
<rect x="293.5" y="6.5" width="70" height="17" rx="1" fill="#222" stroke="#111" stroke-width="1.2"/>
<rect x="370.5" y="7" width="21" height="17" rx="1" fill="#222" stroke="#111" stroke-width="1.2"/>
<rect x="72" y="10" width="13" height="11" rx="1" fill="#080808"/><path d="M75.9,13.5 L81.1,13.5 L78.5,17.5 Z" fill="#eee"/>
<rect x="258" y="10" width="13" height="11" rx="1" fill="#080808"/><path d="M261.9,13.5 L267.1,13.5 L264.5,17.5 Z" fill="#eee"/>
<rect x="349" y="9" width="12.5" height="11" rx="1.5" fill="#080808" stroke="#333" stroke-width="0.6"/>
<path d="M352.6,13 L357.8,13 L355.2,16.8 Z" fill="#eee"/>
<rect x="377" y="14.2" width="8" height="2" fill="#ddd"/><rect x="380" y="11.2" width="2" height="8" fill="#ddd"/>
<text transform="translate(9.7,18.8) scale(1,1.1)" font-size="8" font-weight="bold" fill="#f39a10" stroke="#0e0e0e" stroke-width="1" paint-order="stroke">XAG<tspan fill="#c98a1c">=</tspan></text>
<text transform="translate(33.8,18.8) scale(1,1.1)" font-size="7.5" fill="#9a9a9a" stroke="#0e0e0e" stroke-width="1" paint-order="stroke">C</text>
<text transform="translate(41,18.8) scale(1,1.1)" font-size="8" fill="#e2e2e2" stroke="#0e0e0e" stroke-width="1" paint-order="stroke">19.48</text>
<text transform="translate(101.8,18.8) scale(1,1.1)" font-size="8" font-weight="bold" fill="#d8d8d8" stroke="#0e0e0e" stroke-width="1" paint-order="stroke">SMA3</text>
<text transform="translate(127.2,18.8) scale(1,1.1)" font-size="8" font-weight="bold" fill="#6a8fdc" stroke="#0e0e0e" stroke-width="1" paint-order="stroke">50</text>
<text transform="translate(138.6,18.8) scale(1,1.1)" font-size="8" fill="#e2e2e2" stroke="#0e0e0e" stroke-width="1" paint-order="stroke">20.45</text>
<text transform="translate(166.8,18.8) scale(1,1.1)" font-size="8" font-weight="bold" fill="#e4f08c" stroke="#0e0e0e" stroke-width="1" paint-order="stroke">100</text>
<text transform="translate(183.3,18.8) scale(1,1.1)" font-size="8" fill="#e2e2e2" stroke="#0e0e0e" stroke-width="1" paint-order="stroke">19.91</text>
<text transform="translate(211,18.8) scale(1,1.1)" font-size="8" fill="#e0380e" stroke="#0e0e0e" stroke-width="1" paint-order="stroke">200</text>
<text transform="translate(227,18.8) scale(1,1.1)" font-size="8" fill="#e2e2e2" stroke="#0e0e0e" stroke-width="1" paint-order="stroke">20.04</text>
<text transform="translate(300.6,18.3) scale(1,1.1)" font-size="8" fill="#c4c4c4" stroke="#0e0e0e" stroke-width="1" paint-order="stroke">Daily</text>
</svg></body></html>
